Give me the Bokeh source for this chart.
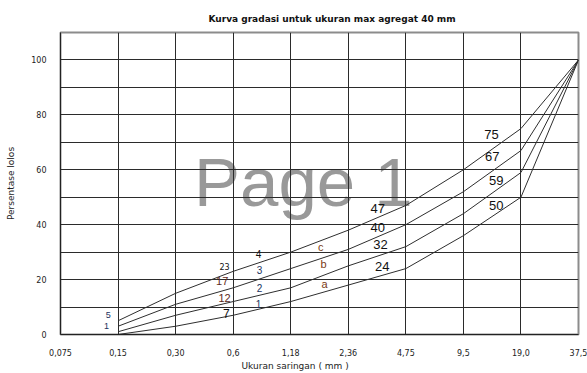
from bokeh.plotting import figure
from bokeh.models import FixedTicker, ColumnDataSource, Title, Range1d
from bokeh.core.properties import value
from bokeh.embed import file_html
from bokeh.resources import INLINE

# ---------------- data ----------------
sieve_labels = ["0,075", "0,15", "0,30", "0,6", "1,18", "2,36", "4,75", "9,5", "19,0", "37,5"]
# percent passing, for sieves 0,15 ... 37,5
curve_1 = [0, 3, 7, 12, 18, 24, 36, 50, 100]
curve_2 = [1, 7, 12, 17, 25, 32, 44, 59, 100]
curve_3 = [3, 11, 17, 24, 31, 40, 52, 67, 100]
curve_4 = [5, 15, 23, 30, 38, 47, 60, 75, 100]
curve_names = ["1", "2", "3", "4"]
zone_names = ["a", "b", "c"]
y_ticks = [0, 20, 40, 60, 80, 100]

title_text = "Kurva gradasi untuk ukuran max agregat 40 mm"
x_label = "Ukuran saringan ( mm )"
y_label = "Persentase lolos"
watermark = "Page 1"

# ---------------- figure ----------------
positions = list(range(len(sieve_labels)))
curve_x = positions[1:]
curves = [curve_1, curve_2, curve_3, curve_4]

p = figure(width=587, height=373, x_range=Range1d(0, 9), y_range=Range1d(0, 110),
           output_backend="svg", toolbar_location=None,
           min_border_left=60, min_border_right=9, min_border_top=32, min_border_bottom=39)
p.background_fill_color = "white"
p.border_fill_color = "white"
p.outline_line_color = "#8c8c8c"
p.outline_line_width = 2

# title
p.title.text = title_text
p.title.text_font = "DejaVu Sans"
p.title.text_font_size = "9px"
p.title.text_font_style = "bold"
p.title.text_color = "#111111"
p.title.align = "left"
p.title.offset = 148
p.title.standoff = 18

# axes
for ax in (p.xaxis[0], p.yaxis[0]):
    ax.major_tick_line_color = None
    ax.minor_tick_line_color = None
    ax.axis_line_color = "#222222"
    ax.major_label_text_font = "DejaVu Sans"
    ax.major_label_text_font_size = "8px"
    ax.major_label_text_color = "#222222"
    ax.major_label_standoff = 8

p.xaxis.ticker = FixedTicker(ticks=positions)
p.xaxis.major_label_overrides = {i: lab for i, lab in enumerate(sieve_labels)}
p.yaxis.ticker = FixedTicker(ticks=y_ticks)
p.yaxis.axis_label = y_label
p.yaxis.axis_label_text_font = "DejaVu Sans"
p.yaxis.axis_label_text_font_size = "9px"
p.yaxis.axis_label_text_font_style = "normal"
p.yaxis.axis_label_text_color = "#222222"
p.yaxis.axis_label_standoff = 12

p.add_layout(Title(text=x_label, align="left", offset=181, standoff=0,
                   text_font="DejaVu Sans", text_font_size="9px",
                   text_font_style="normal", text_color="#222222"), "below")

# grid
p.xgrid.ticker = FixedTicker(ticks=positions[1:-1])
p.ygrid.ticker = FixedTicker(ticks=list(range(10, 101, 10)))
for g in (p.xgrid[0], p.ygrid[0]):
    g.grid_line_color = "#2b2b2b"
    g.grid_line_width = 1
    g.grid_line_alpha = 1

# watermark (beneath grid)
p.text(x=[2.32], y=[55.2], text=[watermark], text_font=value("Liberation Sans"),
       text_font_size="69px", text_color="#999999", text_align="left",
       text_baseline="middle", level="image")

# curves
for c in curves:
    p.line(curve_x, c, line_color="#2e2e2e", line_width=1)

# labels
navy = "#22325e"
brown = "#5e2a1c"
rust = "#7a3a14"
black = "#111111"
narrow = ColumnDataSource(dict(
    x=[0.83, 0.80,
       2.81, 2.85, 2.88,
       3.44, 3.46, 3.46, 3.44,
       4.52, 4.57, 4.59,
       5.51, 5.51, 5.56, 5.59,
       7.49, 7.50, 7.57, 7.57],
    y=[7.0, 3.0,
       19.4, 13.2, 7.7,
       29.2, 23.4, 16.8, 11.0,
       31.7, 25.6, 18.3,
       45.9, 39.0, 32.8, 24.8,
       72.8, 64.8, 56.1, 47.0],
    text=[str(curve_4[0]), str(curve_2[0]),
          str(curve_3[2]), str(curve_2[2]), str(curve_1[2]),
          curve_names[3], curve_names[2], curve_names[1], curve_names[0],
          zone_names[2], zone_names[1], zone_names[0],
          str(curve_4[5]), str(curve_3[5]), str(curve_2[5]), str(curve_1[5]),
          str(curve_4[7]), str(curve_3[7]), str(curve_2[7]), str(curve_1[7])],
    color=[navy, navy,
           brown, brown, black,
           black, navy, navy, navy,
           rust, rust, rust,
           black, black, black, black,
           black, black, black, black],
    size=["9px", "9px",
          "11px", "11px", "12px",
          "10px", "10px", "10px", "10px",
          "11px", "11px", "11px",
          "13px", "13px", "13px", "13px",
          "13px", "13px", "13px", "13px"],
))
p.text(x="x", y="y", text="text", source=narrow, text_color="color",
       text_font_size="size", text_font=value("Liberation Sans"),
       text_align="center", text_baseline="middle")

p.text(x=[2.85], y=[24.8], text=[str(curve_4[2])], text_font=value("DejaVu Sans"),
       text_font_size="8px", text_color=black, text_align="center", text_baseline="middle")

open("out.html", "w").write(file_html(p, INLINE))
